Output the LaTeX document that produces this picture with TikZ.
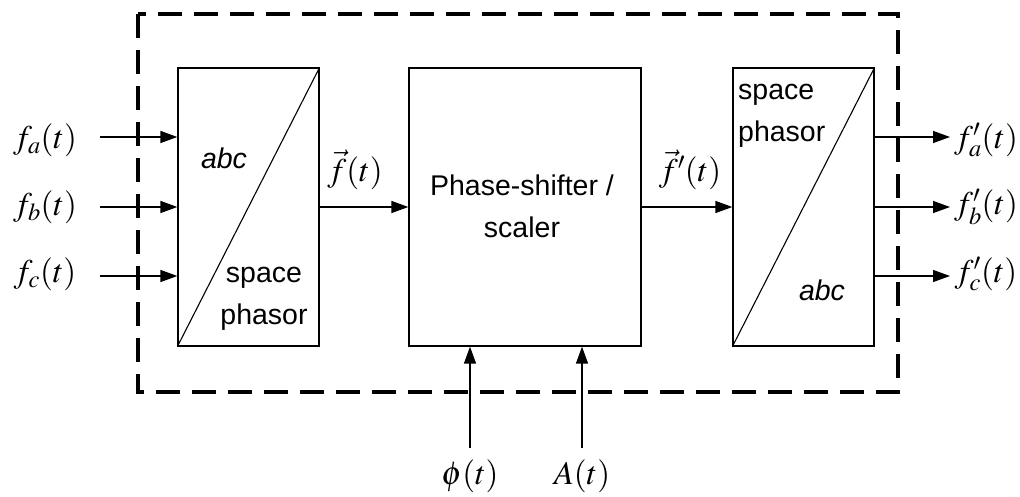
\documentclass[tikz,border=0pt]{standalone}
\usepackage{mathptmx}
\usepackage[no-math]{fontspec}
\setmainfont{Liberation Sans}
\usetikzlibrary{arrows.meta}
\tikzset{
  blk/.style={draw, line width=1.3pt, minimum width=141pt, minimum height=278pt, inner sep=0pt},
  sig/.style={line width=1.4pt, -{Triangle[length=17pt,width=12pt]}},
  lbl/.style={inner sep=0pt, font=\fontsize{33}{36}\selectfont},
  txt/.style={inner sep=0pt, font=\fontsize{28.5}{42}\selectfont},
  frame/.style={line width=3.5pt, dash pattern=on 24pt off 12pt}
}
\begin{document}
\begin{tikzpicture}[x=1pt,y=-1pt]
\useasboundingbox (0,0) rectangle (1020,497);
\draw[frame] (138,14) rectangle (898,392);
% blocks
\node[blk] (L) at (248.5,207) {};
\node[blk, minimum width=232pt] (M) at (525,207) {};
\node[blk] (R) at (803.5,207) {};
\draw[line width=1.1pt] (L.south west) -- (L.north east);
\draw[line width=1.1pt] (R.south west) -- (R.north east);
% block texts
\node[txt, font=\fontsize{28.5}{42}\selectfont\itshape] (Labc) at (224,158) {abc};
\node[txt, align=center] (Lsp) at (264,299) {space\\phasor};
\node[txt, align=left, anchor=west] (Rsp) at (738,116) {space\\phasor};
\node[txt, font=\fontsize{28.5}{42}\selectfont\itshape] (Rabc) at (822,290) {abc};
\node[txt, align=center] (Mtxt) at (522,206) {Phase-shifter /\\scaler};
% input labels and arrows
\node[lbl] (fa) at (45,140) {$f_a(t)$};
\node[lbl] (fb) at (45,207) {$f_b(t)$};
\node[lbl] (fc) at (45,274) {$f_c(t)$};
\coordinate (ia) at (100,137);
\coordinate (ib) at (100,207);
\coordinate (ic) at (100,276);
\draw[sig] (ia) -- (L.west |- ia);
\draw[sig] (ib) -- (L.west |- ib);
\draw[sig] (ic) -- (L.west |- ic);
% middle connections
\draw[sig] (L.east) -- (M.west);
\draw[sig] (M.east) -- (R.west);
\node[lbl] (fvec) at (355,170) {$\vec{f}(t)$};
\node[lbl] (fpvec) at (690,170) {$\vec{f}'(t)$};
% outputs
\coordinate (oa) at (950,137);
\coordinate (ob) at (950,207);
\coordinate (oc) at (950,276);
\draw[sig] (R.east |- oa) -- (oa);
\draw[sig] (R.east |- ob) -- (ob);
\draw[sig] (R.east |- oc) -- (oc);
\node[lbl] (fpa) at (986,140) {$f'_a(t)$};
\node[lbl] (fpb) at (986,207) {$f'_b(t)$};
\node[lbl] (fpc) at (986,274) {$f'_c(t)$};
% bottom inputs
\coordinate (bphi) at (470,448);
\coordinate (bA) at (582,448);
\draw[sig] (bphi) -- (M.south -| bphi);
\draw[sig] (bA) -- (M.south -| bA);
\node[lbl] (phi) at (470,476) {$\phi(t)$};
\node[lbl] (At) at (582,476) {$A(t)$};
\end{tikzpicture}
\end{document}
